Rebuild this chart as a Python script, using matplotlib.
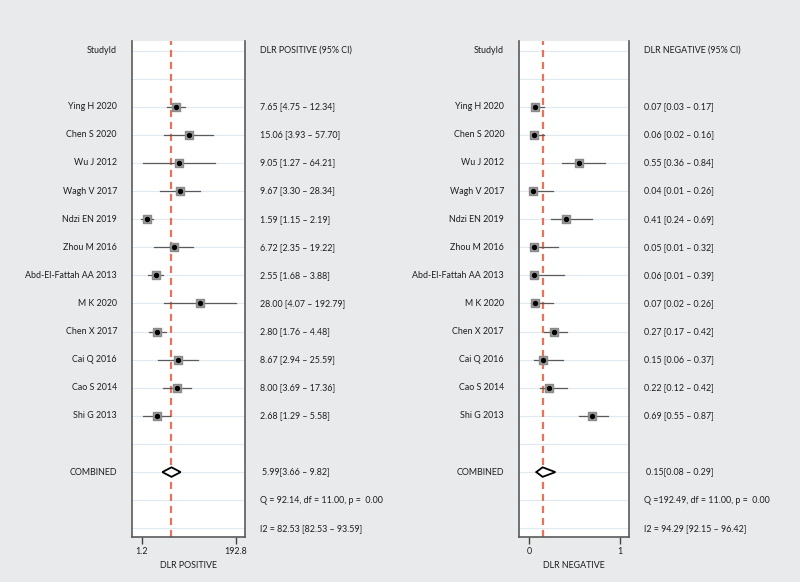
import matplotlib
matplotlib.use("Agg")
import matplotlib.pyplot as plt
import matplotlib.transforms as mtransforms

plt.rcParams['font.family'] = ['Lato', 'DejaVu Sans']

studies = ["Ying H 2020", "Chen S 2020", "Wu J 2012", "Wagh V 2017", "Ndzi EN 2019",
           "Zhou M 2016", "Abd-El-Fattah AA 2013", "M K 2020", "Chen X 2017",
           "Cai Q 2016", "Cao S 2014", "Shi G 2013"]

pos_est = [7.65, 15.06, 9.05, 9.67, 1.59, 6.72, 2.55, 28.00, 2.80, 8.67, 8.00, 2.68]
pos_lo = [4.75, 3.93, 1.27, 3.30, 1.15, 2.35, 1.68, 4.07, 1.76, 2.94, 3.69, 1.29]
pos_hi = [12.34, 57.70, 64.21, 28.34, 2.19, 19.22, 3.88, 192.79, 4.48, 25.59, 17.36, 5.58]
pos_comb = (5.99, 3.66, 9.82)
pos_Q = "Q = 92.14, df = 11.00, p =  0.00"
pos_I2 = "I2 = 82.53 [82.53 \u2013 93.59]"

neg_est = [0.07, 0.06, 0.55, 0.04, 0.41, 0.05, 0.06, 0.07, 0.27, 0.15, 0.22, 0.69]
neg_lo = [0.03, 0.02, 0.36, 0.01, 0.24, 0.01, 0.01, 0.02, 0.17, 0.06, 0.12, 0.55]
neg_hi = [0.17, 0.16, 0.84, 0.26, 0.69, 0.32, 0.39, 0.26, 0.42, 0.37, 0.42, 0.87]
neg_comb = (0.15, 0.08, 0.29)
neg_Q = "Q =192.49, df = 11.00, p =  0.00"
neg_I2 = "I2 = 94.29 [92.15 \u2013 96.42]"

pos_ticks = [1.2, 192.8]
pos_ticklabels = ["1.2", "192.8"]
neg_ticks = [0, 1]
neg_ticklabels = ["0", "1"]

BG = "#e9eaec"
RED = "#e8735a"
FS = 6.4
TC = "#1e1e1e"

fig = plt.figure(figsize=(8, 5.82), dpi=100)
fig.patch.set_facecolor(BG)

W, H = 800, 582
top_px, bot_px = 41, 537


def make_panel(x0, x1, lab_x, txt_x, est, lo, hi, comb, qtxt, i2txt, header, xlabel,
               logscale, xlim, ticks, ticklabels):
    ax = fig.add_axes([x0 / W, 1 - bot_px / H, (x1 - x0) / W, (bot_px - top_px) / H])
    ax.set_facecolor("white")
    if logscale:
        ax.set_xscale("log")
    ax.set_xlim(*xlim)
    ax.set_ylim(17.31, -0.34)
    n_rows = 18
    for r in range(n_rows):
        ax.axhline(r, color="#dfe9f2", lw=0.8, zorder=0)
    ax.axvline(comb[0], color=RED, lw=1.6, ls=(0, (3.2, 2.2)), zorder=1)
    rows = list(range(2, 2 + len(est)))
    for r, e, l, h in zip(rows, est, lo, hi):
        ax.plot([l, h], [r, r], color="#5a5a5a", lw=0.9, zorder=2)
    ax.scatter(est, rows, marker="s", s=36, color="#9a9a9a", edgecolors="#8a8a8a", zorder=3)
    ax.scatter(est, rows, marker="o", s=8, color="black", zorder=4)
    cr = 15
    dh = 0.17
    ax.fill([comb[1], comb[0], comb[2], comb[0], comb[1]],
            [cr, cr - dh, cr, cr + dh, cr], facecolor="white", edgecolor="black",
            lw=1.3, zorder=3)
    ax.spines["top"].set_visible(False)
    for s in ["left", "right", "bottom"]:
        ax.spines[s].set_color("#5a5a5a")
        ax.spines[s].set_linewidth(1.2)
    ax.set_yticks([])
    ax.set_xticks(ticks)
    ax.set_xticklabels(ticklabels, fontsize=FS)
    ax.xaxis.set_minor_locator(matplotlib.ticker.NullLocator())
    ax.tick_params(axis="x", direction="out", length=5, width=1.0, color="#444444",
                   pad=2, labelcolor=TC)
    ax.set_xlabel(xlabel, fontsize=FS, color=TC, labelpad=4)

    tr = mtransforms.blended_transform_factory(fig.transFigure, ax.transData)
    fig.text(lab_x / W, 0, "StudyId", transform=tr, ha="right", va="center",
             fontsize=FS, color=TC)
    fig.text(txt_x / W, 0, header, transform=tr, ha="left", va="center",
             fontsize=FS, color=TC)
    for r, name, e, l, h in zip(rows, studies, est, lo, hi):
        fig.text(lab_x / W, r, name, transform=tr, ha="right", va="center",
                 fontsize=FS, color=TC)
        fig.text(txt_x / W, r, f"{e:.2f} [{l:.2f} \u2013 {h:.2f}]", transform=tr,
                 ha="left", va="center", fontsize=FS, color=TC)
    fig.text(lab_x / W, cr, "COMBINED", transform=tr, ha="right", va="center",
             fontsize=FS, color=TC)
    fig.text((txt_x + 2) / W, cr, f"{comb[0]:.2f}[{comb[1]:.2f} \u2013 {comb[2]:.2f}]",
             transform=tr, ha="left", va="center", fontsize=FS, color=TC)
    fig.text(txt_x / W, 16, qtxt, transform=tr, ha="left", va="center",
             fontsize=FS, color=TC)
    fig.text(txt_x / W, 17, i2txt, transform=tr, ha="left", va="center",
             fontsize=FS, color=TC)
    return ax


make_panel(132, 245, 117, 260, pos_est, pos_lo, pos_hi, pos_comb, pos_Q, pos_I2,
           "DLR POSITIVE (95% CI)", "DLR POSITIVE", True, (0.71, 318),
           pos_ticks, pos_ticklabels)
make_panel(519, 629, 504, 644, neg_est, neg_lo, neg_hi, neg_comb, neg_Q, neg_I2,
           "DLR NEGATIVE (95% CI)", "DLR NEGATIVE", False, (-0.11, 1.10),
           neg_ticks, neg_ticklabels)

fig.savefig("out.png", dpi=100, facecolor=BG)
